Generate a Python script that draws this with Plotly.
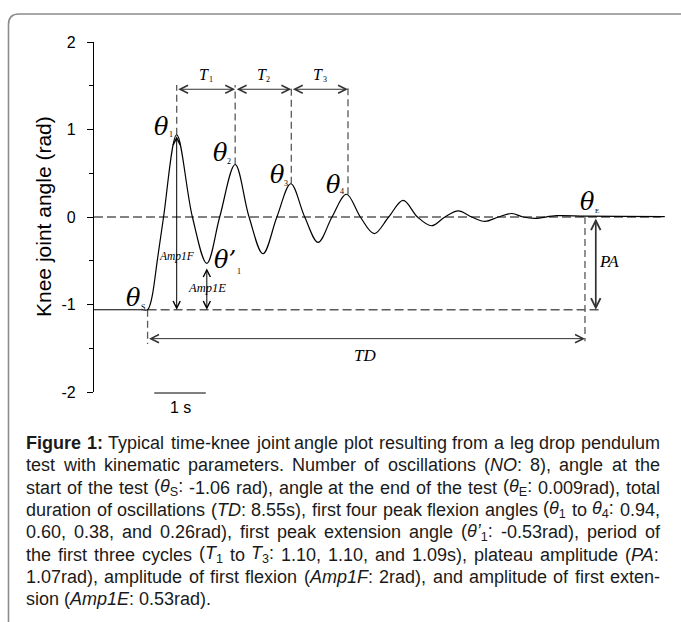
import re
import plotly.graph_objects as go

# ---------------- data ----------------
time_s = [0.0, 0.90, 1.04, 1.09, 1.14, 1.23, 1.35, 1.605, 1.91, 2.19, 2.44, 2.74,
          3.01, 3.28, 3.55, 3.82, 4.09, 4.35, 4.62, 4.90, 5.17, 5.44, 5.72, 6.00,
          6.28, 6.55, 6.81, 7.07, 7.33, 7.59, 7.85, 8.11, 8.33, 8.56, 8.98, 9.53,
          10.20, 11.08]
angle_rad = [-1.06, -1.06, -1.06, -1.00, -0.87, -0.49, 0.0, 0.94, 0.0, -0.53, 0.0, 0.60,
             0.0, -0.42, 0.0, 0.38, 0.0, -0.29, 0.0, 0.26, 0.0, -0.19, 0.0, 0.19,
             0.0, -0.10, 0.0, 0.07, 0.0, -0.05, 0.0, 0.04, 0.0, -0.015, 0.015, 0.009,
             0.008, 0.005]

peak_times = [1.605, 2.74, 3.83, 4.93]          # theta1..theta4
peak_angles = [0.94, 0.60, 0.38, 0.26]
period_labels = ["T", "T", "T"]
period_subs = ["1", "2", "3"]
ext1_time, ext1_angle = 2.19, -0.53               # theta'1
start_time, theta_s = 1.04, -1.06                 # theta S
end_time, theta_e = 9.53, 0.009                   # theta E
zero_line_end = 11.0
plateau_line_end = 9.86
period_arrow_level = 1.46
dash_top = 1.51
td_level = -1.39
pa_time = 9.74
scale_bar = [1.17, 2.17]                          # 1 s

ytick_vals = [-2, -1, 0, 1, 2]
ytick_text = ["-2", "-1", "0", "1", "2"]

caption_lines = [
    "<b>Figure</b> <b>1:</b> Typical time-knee joint angle plot resulting from a leg drop pendulum",
    "test with kinematic parameters. Number of oscillations (<i>NO</i>: 8), angle at the",
    "start of the test (<i>θ</i><sub>S</sub>: -1.06 rad), angle at the end of the test (<i>θ</i><sub>E</sub>: 0.009rad), total",
    "duration of oscillations (<i>TD</i>: 8.55s), first four peak flexion angles (<i>θ</i><sub>1</sub> to <i>θ</i><sub>4</sub>: 0.94,",
    "0.60, 0.38, and 0.26rad), first peak extension angle (<i>θ’</i><sub>1</sub>: -0.53rad), period of",
    "the first three cycles (<i>T</i><sub>1</sub> to <i>T</i><sub>3</sub>: 1.10, 1.10, and 1.09s), plateau amplitude (<i>PA</i>:",
    "1.07rad), amplitude of first flexion (<i>Amp1F</i>: 2rad), and amplitude of first exten-",
    "sion (<i>Amp1E</i>: 0.53rad).",
]

# ---------------- layout geometry ----------------
W, H = 681, 622
L, T, PW, PH = 94, 42, 577, 350
XR = [0, 11.2]


def xp(px):
    return (px - L) / PW


def yp(py):
    return (T + PH - py) / PH


SERIF = "Liberation Serif"
GREEK = "DejaVu Serif"
SANS = "Liberation Sans"
DASH_COL = "#5a5a5a"
ARR_COL = "#333333"

# Arial / Liberation Sans advance widths (1/1000 em) for justifying the caption
_REG = dict(zip(" !\"#$%&'()*+,-./0123456789:;<=>?",
                [278, 278, 355, 556, 556, 889, 667, 191, 333, 333, 389, 584, 278, 333, 278, 278]
                + [556] * 10 + [278, 278, 584, 584, 584, 556]))
_REG.update(dict(zip("ABCDEFGHIJKLMNOPQRSTUVWXYZ",
                     [667, 667, 722, 722, 667, 611, 778, 722, 278, 500, 667, 556, 833, 722, 778,
                      667, 778, 722, 667, 611, 722, 667, 944, 667, 667, 611])))
_REG.update(dict(zip("abcdefghijklmnopqrstuvwxyz",
                     [556, 556, 500, 556, 556, 278, 556, 556, 222, 222, 500, 222, 833, 556, 556,
                      556, 556, 333, 500, 278, 556, 500, 722, 500, 500, 500])))
_REG.update({"θ": 556, "’": 222})
_BOLD = {"F": 611, "i": 278, "g": 611, "u": 611, "r": 389, "e": 556, "1": 556, ":": 333}


def text_width(tok, size):
    w, bold, sub = 0.0, False, False
    for part in re.split(r"(<[^>]+>)", tok):
        if part.startswith("<"):
            closing = part.startswith("</")
            tag = part.strip("</>")
            if tag == "b":
                bold = not closing
            elif tag == "sub":
                sub = not closing
            continue
        for ch in part:
            cw = _BOLD.get(ch, 611) if bold else _REG.get(ch, 556)
            w += cw * (0.7 if sub else 1.0)
    return w * size / 1000.0


fig = go.Figure()
fig.add_trace(go.Scatter(
    x=time_s, y=angle_rad, mode="lines",
    line=dict(color="black", width=1.2, shape="spline", smoothing=1.0),
    hoverinfo="skip", showlegend=False))

shapes = []


def dline(x0, y0, x1, y1, dash="7px,4px", col=DASH_COL, w=1.3):
    shapes.append(dict(type="line", xref="x", yref="y", x0=x0, y0=y0, x1=x1, y1=y1,
                       line=dict(color=col, width=w, dash=dash), layer="below"))


# horizontal dashed lines
dline(0, 0, zero_line_end, 0, dash="9px,4px")
dline(start_time, theta_s, plateau_line_end, theta_s, dash="9px,4px")
# vertical dashed lines from peaks
for t, a in zip(peak_times, peak_angles):
    dline(t, a, t, dash_top)
dline(start_time, theta_s, start_time, -1.45)
dline(end_time, 0, end_time, -1.42)

# scale bar (1 s) just below the plot
shapes.append(dict(type="line", xref="x", yref="paper", x0=scale_bar[0], x1=scale_bar[1],
                   y0=yp(393), y1=yp(393), line=dict(color="black", width=1.2)))

# outer rounded frame
frame = (f"M {xp(700)},{yp(14)} L {xp(19)},{yp(14)} Q {xp(8.5)},{yp(14)} {xp(8.5)},{yp(24.5)} "
         f"L {xp(8.5)},{yp(640)}")
shapes.append(dict(type="path", xref="paper", yref="paper", path=frame,
                   line=dict(color="#8c8c8c", width=1.6)))

annotations = []


def arrow(x0, y0, x1, y1, col=ARR_COL, w=1.0, size=1.6):
    annotations.append(dict(x=x1, y=y1, ax=x0, ay=y0, xref="x", yref="y", axref="x", ayref="y",
                            text="", showarrow=True, arrowhead=5, startarrowhead=5,
                            arrowside="end+start", arrowsize=size, startarrowsize=size,
                            arrowwidth=w, arrowcolor=col, standoff=0, startstandoff=0))


def label(x, y, text, size, family=SERIF, xref="x", yref="y", xanchor="center",
          yanchor="middle", col="black", angle=0, pad=1):
    annotations.append(dict(x=x, y=y, xref=xref, yref=yref, text=text, showarrow=False,
                            font=dict(family=family, size=size, color=col),
                            xanchor=xanchor, yanchor=yanchor, textangle=angle,
                            borderpad=pad, borderwidth=0))


# period arrows T1..T3
for i in range(3):
    arrow(peak_times[i], period_arrow_level, peak_times[i + 1], period_arrow_level)
    mid = (peak_times[i] + peak_times[i + 1]) / 2
    label(mid - 0.03, 1.625, f"<i>{period_labels[i]}</i>", 16)
    label(mid + 0.10, 1.57, period_subs[i], 8)

# amplitude arrows
arrow(peak_times[0], peak_angles[0], peak_times[0], theta_s, col="black", w=1.0, size=1.4)
arrow(ext1_time, ext1_angle - 0.04, ext1_time, theta_s, col="black", w=1.0, size=1.4)
# plateau amplitude
arrow(pa_time, 0, pa_time, theta_s, col=ARR_COL, w=1.7, size=1.1)
# total duration
arrow(start_time, td_level, end_time, td_level)

# theta labels
TH = 24
label(1.31, 1.03, "<i>θ</i>", TH, family=GREEK)
label(1.49, 0.94, "1", 8)
label(2.45, 0.73, "<i>θ</i>", TH, family=GREEK)
label(2.63, 0.633, "2", 8)
label(3.56, 0.48, "<i>θ</i>", TH, family=GREEK)
label(3.73, 0.386, "3", 8)
label(4.65, 0.366, "<i>θ</i>", TH, family=GREEK)
label(4.82, 0.29, "4", 8)
label(2.55, -0.49, "<i>θ’</i>", TH, family=GREEK)
label(2.81, -0.62, "1", 8)
label(0.77, -0.93, "<i>θ</i>", TH, family=GREEK)
label(0.96, -1.03, "S", 8)
label(9.57, 0.175, "<i>θ</i>", TH, family=GREEK)
label(9.76, 0.072, "E", 7)

label(peak_times[0], -0.454, "<i>Amp1F</i>", 11.5)
label(ext1_time, -0.815, "<i>Amp1E</i>", 12.5)
label(9.995, -0.51, "<i>PA</i>", 17)
label(5.26, -1.58, "<i>TD</i>", 17)
label(1.67, yp(407), "1 s", 16, family=SANS, yref="paper")

# y-axis title
label(xp(43), yp(217), "Knee joint angle (rad)", 21, family=SANS, xref="paper",
      yref="paper", angle=-90)

# caption: justified between CAP_L and CAP_R (last line left-aligned)
CAP_L, CAP_R, CAP_SIZE = 26, 660, 18
for k, line in enumerate(caption_lines):
    words = line.split(" ")
    widths = [text_width(wd, CAP_SIZE) for wd in words]
    space = 0.278 * CAP_SIZE
    if k < len(caption_lines) - 1 and len(words) > 1:
        space = (CAP_R - CAP_L - sum(widths)) / (len(words) - 1)
    x = CAP_L
    for wd, wdt in zip(words, widths):
        label(xp(x), yp(443 + 22.3 * k), wd, CAP_SIZE, family=SANS, xref="paper",
              yref="paper", xanchor="left", col="#1a1a1a", pad=0)
        x += wdt + space

fig.update_layout(
    width=W, height=H, margin=dict(l=L, r=W - L - PW, t=T, b=H - T - PH, pad=0),
    paper_bgcolor="white", plot_bgcolor="white",
    shapes=shapes, annotations=annotations, showlegend=False,
    xaxis=dict(visible=False, range=XR, fixedrange=True),
    yaxis=dict(range=[-2, 2], tickvals=ytick_vals, ticktext=ytick_text,
               showline=True, linecolor="black", linewidth=1.2, ticks="outside",
               ticklen=6, tickwidth=1.1, tickcolor="black", showgrid=False, zeroline=False,
               ticklabelstandoff=8,
               tickfont=dict(family=SANS, size=16, color="black"),
               minor=dict(dtick=0.5, tick0=0, ticks="outside", ticklen=4, tickwidth=1,
                          tickcolor="black", showgrid=False),
               fixedrange=True),
)

fig.write_html("out.html", config={"displayModeBar": False},
               post_script="document.body.style.margin='0px';")
